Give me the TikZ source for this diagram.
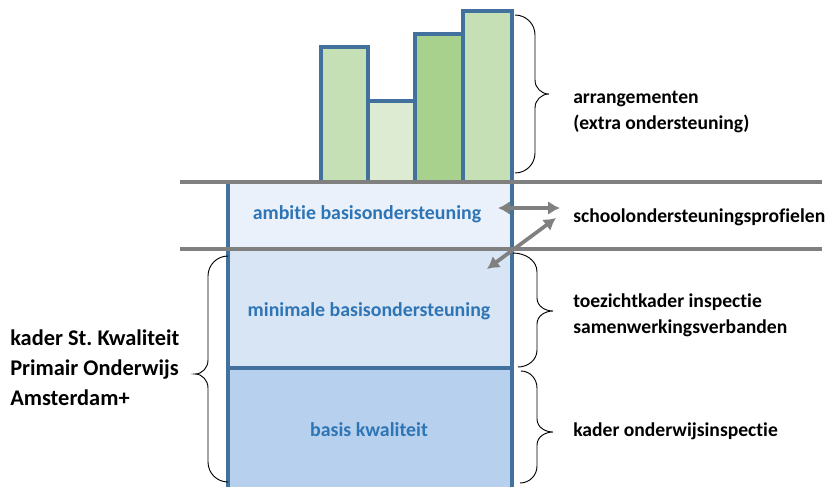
\documentclass[tikz,border=0pt]{standalone}
\usepackage{fontspec}
\setmainfont{Carlito}[Ligatures=NoCommon]
\usetikzlibrary{arrows.meta}
\definecolor{edgeblue}{HTML}{41719C}
\definecolor{txtblue}{HTML}{2E75B6}
\definecolor{linegray}{HTML}{808080}
\definecolor{barA}{HTML}{C5E0B4}
\definecolor{barB}{HTML}{DCEBD2}
\definecolor{barC}{HTML}{A9D18E}
\definecolor{fillAmb}{HTML}{EAF1FA}
\definecolor{fillMin}{HTML}{D8E5F5}
\definecolor{fillBas}{HTML}{B6D0EE}
\tikzset{
  barbox/.style={draw=edgeblue, line width=2.6pt},
  boxedge/.style={draw=edgeblue, line width=2.6pt},
  sepline/.style={draw=linegray, line width=3.2pt},
  bluelabel/.style={text=txtblue, font=\fontsize{14.9}{18}\selectfont\bfseries, inner sep=0pt},
  sidelabel/.style={text=black, font=\fontsize{14.7}{19.2}\selectfont\bfseries, align=left, anchor=west, inner sep=0pt},
  leftlabel/.style={text=black, font=\fontsize{16.8}{22.5}\selectfont\bfseries, align=left, anchor=west, inner sep=0pt},
  bracestyle/.style={draw=black, line width=0.7pt},
  dblarrow/.style={draw=linegray, line width=2.8pt, {Latex[length=9pt,width=10.5pt]}-{Latex[length=9pt,width=10.5pt]}},
}
\begin{document}
\begin{tikzpicture}[x=0.75pt,y=-0.75pt]
\useasboundingbox (0,0) rectangle (827,486);
% main column fills
\fill[fillAmb] (228,182) rectangle (512,249);
\fill[fillMin] (228,249) rectangle (512,368);
\fill[fillBas] (228,368) rectangle (512,488);
% bars
\path[barbox, fill=barA] (321,182) -- (321,47) -- (368,47) -- (368,182);
\path[barbox, fill=barB] (368,182) -- (368,101) -- (415,101) -- (415,182);
\path[barbox, fill=barC] (415,182) -- (415,34) -- (463,34) -- (463,182);
\path[barbox, fill=barA] (463,182) -- (463,11) -- (512,11) -- (512,182);
% column edges
\draw[boxedge] (228,182) -- (228,490);
\draw[boxedge] (512,182) -- (512,490);
\draw[boxedge] (228,368) -- (512,368);
% gray separator lines
\draw[sepline] (180,182) -- (822,182);
\draw[sepline] (180,249) -- (822,249);
% blue labels
\node[bluelabel] (amb) at (367,214) {ambitie basisondersteuning};
\node[bluelabel] (min) at (369,311) {minimale basisondersteuning};
\node[bluelabel] (bas) at (369,430) {basis kwaliteit};
% side labels
\node[sidelabel] (arr) at (573,112) {arrangementen\\(extra ondersteuning)};
\node[sidelabel] (sop) at (573,217) {schoolondersteuningsprofielen};
\node[sidelabel] (toe) at (573,315) {toezichtkader inspectie\\samenwerkingsverbanden};
\node[sidelabel] (kad) at (573,431) {kader onderwijsinspectie};
\node[leftlabel] (kwal) at (10,368) {kader St.\ Kwaliteit\\Primair Onderwijs\\Amsterdam+};
% braces
\draw[bracestyle] (515,15) to[out=0,in=90] (535,35) -- (535,80) to[out=-90,in=180] (549,94)
  to[out=180,in=90] (535,108) -- (535,153) to[out=-90,in=0] (515,173);
\draw[bracestyle] (513,253) to[out=0,in=90] (537,272) -- (537,298) to[out=-90,in=180] (553,311)
  to[out=180,in=90] (537,324) -- (537,350) to[out=-90,in=0] (518,367);
\draw[bracestyle] (521,371) to[out=0,in=90] (537,388) -- (537,419) to[out=-90,in=180] (553,432)
  to[out=180,in=90] (537,445) -- (537,466) to[out=-90,in=0] (520,483);
\draw[bracestyle] (228,256) to[out=180,in=90] (208,276) -- (208,360) to[out=-90,in=0] (195,374)
  to[out=0,in=90] (208,388) -- (208,462) to[out=-90,in=180] (228,482);
% arrows
\coordinate (h1) at (498,208);
\coordinate (h2) at (560,208);
\coordinate (d1) at (487,269);
\coordinate (d2) at (556,218);
\draw[dblarrow] (h1) -- (h2);
\draw[dblarrow] (d1) -- (d2);
\end{tikzpicture}
\end{document}
